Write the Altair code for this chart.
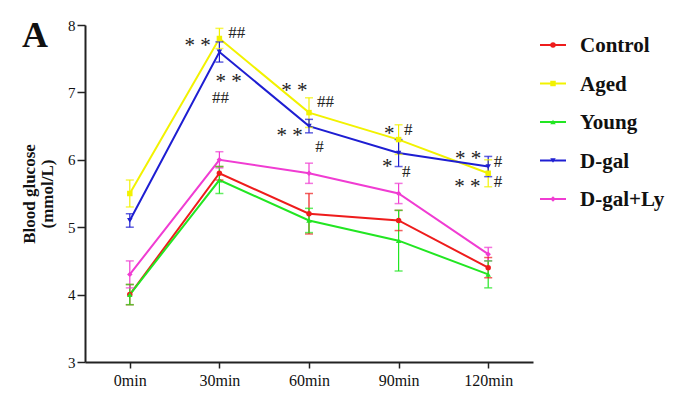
import altair as alt
import pandas as pd

panel_label = ["A"]
times = [0, 30, 60, 90, 120]
groups = ["Control", "Aged", "Young", "D-gal", "D-gal+Ly"]
colors = ["#ee1c1c", "#f2f200", "#22e622", "#1e1ed2", "#f03cd2"]
shapes = ["circle", "square", "triangle-up", "triangle-down", "diamond"]

control = [4.0, 5.8, 5.2, 5.1, 4.4]
aged = [5.5, 7.8, 6.7, 6.3, 5.8]
young = [4.0, 5.7, 5.1, 4.8, 4.3]
dgal = [5.1, 7.6, 6.5, 6.1, 5.9]
dgal_ly = [4.3, 6.0, 5.8, 5.5, 4.6]

control_sem = [0.15, 0.1, 0.3, 0.15, 0.15]
aged_sem = [0.2, 0.15, 0.22, 0.22, 0.2]
young_sem = [0.15, 0.2, 0.18, 0.45, 0.2]
dgal_sem = [0.1, 0.15, 0.1, 0.2, 0.15]
dgal_ly_sem = [0.2, 0.12, 0.15, 0.15, 0.1]

ann_text = ["* *", "##", "* *", "##", "* *", "##", "* *", "#",
            "*", "#", "*", "#", "* *", "#", "* *", "#"]
ann_time = [22.7, 35.8, 33.1, 30.4, 55.1, 65.5, 53.5, 63.5,
            86.9, 93.2, 86.2, 92.6, 113.3, 123.3, 113.0, 123.3]
ann_value = [7.75, 7.88, 7.22, 6.91, 7.08, 6.86, 6.41, 6.19,
             6.44, 6.44, 5.95, 5.82, 6.07, 5.97, 5.66, 5.67]

series = [control, aged, young, dgal, dgal_ly]
sems = [control_sem, aged_sem, young_sem, dgal_sem, dgal_ly_sem]
rows = []
for g, vals, errs in zip(groups, series, sems):
    for t, v, e in zip(times, vals, errs):
        rows.append({"group": g, "time": t, "value": v, "lo": v - e, "hi": v + e})
df = pd.DataFrame(rows)
ann = pd.DataFrame({"text": ann_text, "time": ann_time, "value": ann_value})
leg_df = pd.DataFrame({"group": groups})
label_df = pd.DataFrame({"label": panel_label})

SERIF = "Liberation Serif"
col = alt.Color("group:N", scale=alt.Scale(domain=groups, range=colors), legend=None)
shp = alt.Shape("group:N", scale=alt.Scale(domain=groups, range=shapes), legend=None)

x_enc = alt.X("time:Q", scale=alt.Scale(domain=[-15, 135], nice=False),
              axis=alt.Axis(values=times, labelExpr="datum.value + 'min'", title=None,
                            grid=False, labelFont=SERIF, labelFontSize=16,
                            labelColor="#111", tickSize=6, tickWidth=1.5,
                            domainWidth=2, domainColor="#222", tickColor="#222",
                            labelPadding=4))
y_enc = alt.Y("value:Q", scale=alt.Scale(domain=[3, 8], nice=False, zero=False),
              axis=alt.Axis(values=[3, 4, 5, 6, 7, 8], format="d", grid=False,
                            title=["Blood glucose", "(mmol/L)"], titleFont=SERIF,
                            titleFontSize=17, titleFontWeight="bold", titleColor="#111",
                            titlePadding=11, titleLineHeight=18,
                            labelFont=SERIF, labelFontSize=15, labelColor="#111",
                            tickSize=8, tickWidth=1.5, domainWidth=2,
                            domainColor="#222", tickColor="#222", labelPadding=2))

base = alt.Chart(df)
lines = base.mark_line(strokeWidth=2).encode(x=x_enc, y=y_enc, color=col, detail="group:N")
err_rule = base.mark_rule(strokeWidth=1.2).encode(x="time:Q", y="lo:Q", y2="hi:Q", color=col)
err_lo = base.mark_tick(orient="horizontal", size=8, thickness=1.5).encode(
    x="time:Q", y="lo:Q", color=col)
err_hi = base.mark_tick(orient="horizontal", size=8, thickness=1.5).encode(
    x="time:Q", y="hi:Q", color=col)
points = base.mark_point(filled=True, size=30, opacity=1).encode(
    x="time:Q", y="value:Q", color=col, shape=shp)

stars = alt.Chart(ann).transform_filter("indexof(datum.text, '*') >= 0").mark_text(
    font=SERIF, fontSize=21, color="#222", baseline="middle", align="center", dy=4
).encode(x="time:Q", y="value:Q", text="text:N")
hashes = alt.Chart(ann).transform_filter("indexof(datum.text, '*') < 0").mark_text(
    font=SERIF, fontSize=17, color="#222", baseline="middle", align="center"
).encode(x="time:Q", y="value:Q", text="text:N")

main = alt.layer(lines, err_rule, err_lo, err_hi, points, stars, hashes)

# manual legend (line + marker + label), rows placed by a point scale
leg_y = alt.Y("group:N", sort=groups, axis=None,
              scale=alt.Scale(type="point", domain=groups, range=[20, 174], padding=0))
leg_base = alt.Chart(leg_df)
leg_line = leg_base.mark_rule(strokeWidth=2).encode(
    x=alt.value(455), x2=alt.value(481), y=leg_y, color=col)
leg_pt = leg_base.mark_point(filled=True, size=30, opacity=1).encode(
    x=alt.value(468), y=leg_y, color=col, shape=shp)
leg_txt = leg_base.mark_text(font=SERIF, fontSize=21, fontWeight="bold", color="#111",
                             align="left", baseline="middle", dy=1).encode(
    x=alt.value(495), y=leg_y, text="group:N")
panel = alt.Chart(label_df).mark_text(font=SERIF, fontSize=36, fontWeight="bold",
                                      color="#111", align="left", baseline="alphabetic").encode(
    x=alt.value(-63), y=alt.value(22), text="label:N")
legend = alt.layer(leg_line, leg_pt, leg_txt, panel)

chart = alt.layer(main, legend).resolve_scale(y="independent").properties(
    width=448, height=337,
    padding={"left": 77, "top": 17, "right": 133, "bottom": 27},
    autosize=alt.AutoSizeParams(type="none"),
).configure_view(stroke=None)

chart.save("out.html", embed_options={"renderer": "svg", "actions": False})
